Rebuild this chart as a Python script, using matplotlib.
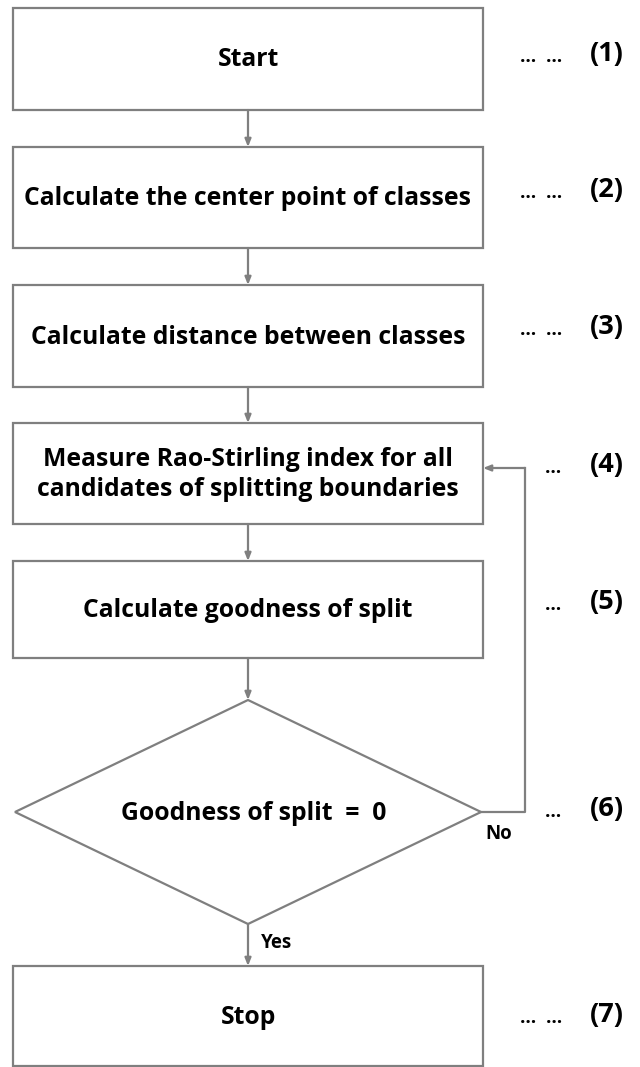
import matplotlib.pyplot as plt
from matplotlib.patches import Rectangle, Polygon

# flowchart content
box_texts = ['Start',
             'Calculate the center point of classes',
             'Calculate distance between classes',
             'Measure Rao-Stirling index for all\ncandidates of splitting boundaries',
             'Calculate goodness of split']
box_tops = [8, 147, 285, 423, 561]
box_bottoms = [110, 248, 387, 524, 658]
diamond_text = 'Goodness of split = 0'
stop_text = 'Stop'
step_labels = ['(1)', '(2)', '(3)', '(4)', '(5)', '(6)', '(7)']
step_dots = ['…  …', '…  …', '…  …', '…', '…', '…', '…  …']
step_y = [57, 193, 330, 468, 605, 812, 1018]

grey = '#7f7f7f'
lw = 1.6
font = ['Open Sans', 'DejaVu Sans']
fs = 17.8

fig = plt.figure(figsize=(6.4, 10.67), dpi=100)
ax = fig.add_axes([0, 0, 1, 1])
ax.set_xlim(0, 640)
ax.set_ylim(1067, 0)
ax.axis('off')

left, right = 13, 483
cx = (left + right) / 2

def arrow(x0, y0, x1, y1):
    ax.annotate('', xy=(x1, y1), xytext=(x0, y0),
                arrowprops=dict(arrowstyle='-|>,head_length=0.45,head_width=0.18',
                                color=grey, lw=lw, shrinkA=0, shrinkB=0))

for i, (t, top, bot) in enumerate(zip(box_texts, box_tops, box_bottoms)):
    ax.add_patch(Rectangle((left, top), right - left, bot - top,
                           fill=False, edgecolor=grey, lw=lw))
    ax.text(cx, (top + bot) / 2 + 1, t, ha='center', va='center', fontsize=fs,
            fontweight='bold', family=font, linespacing=1.3)
    if i < len(box_texts) - 1:
        arrow(cx, bot, cx, box_tops[i + 1])

# decision diamond
d_top, d_mid, d_bot = 700, 812, 924
d_left, d_right = 15, 481
ax.add_patch(Polygon([(cx, d_top), (d_right, d_mid), (cx, d_bot), (d_left, d_mid)],
                     closed=True, fill=False, edgecolor=grey, lw=lw))
ax.text(254, d_mid + 1, diamond_text.replace(' = ', '  =  '), ha='center', va='center',
        fontsize=fs, fontweight='bold', family=font)
arrow(cx, box_bottoms[-1], cx, d_top)

# "No" loop back to step 4
loop_x = 525
ax.plot([d_right, loop_x, loop_x], [d_mid, d_mid, 468], color=grey, lw=lw)
arrow(loop_x, 468, right, 468)
ax.text(499, 834, 'No', ha='center', va='center', fontsize=13.5,
        fontweight='bold', family=font)

# stop box
stop_top = 966
ax.add_patch(Rectangle((left, stop_top), right - left, 1066 - stop_top,
                       fill=False, edgecolor=grey, lw=lw))
ax.text(cx, 1018, stop_text, ha='center', va='center', fontsize=fs,
        fontweight='bold', family=font)
arrow(cx, d_bot, cx, stop_top)
ax.text(277, 943, 'Yes', ha='center', va='center', fontsize=13.5,
        fontweight='bold', family=font)

# step numbers on the right
for dots, lab, y in zip(step_dots, step_labels, step_y):
    ax.text(553 if len(dots) == 1 else 541, y, dots, ha='center', va='center',
            fontsize=13.5, fontweight='bold', family=font)
    ax.text(607, y - 3, lab, ha='center', va='center', fontsize=19.5,
            fontweight='bold', family=font)

fig.savefig('out.png', dpi=100)
